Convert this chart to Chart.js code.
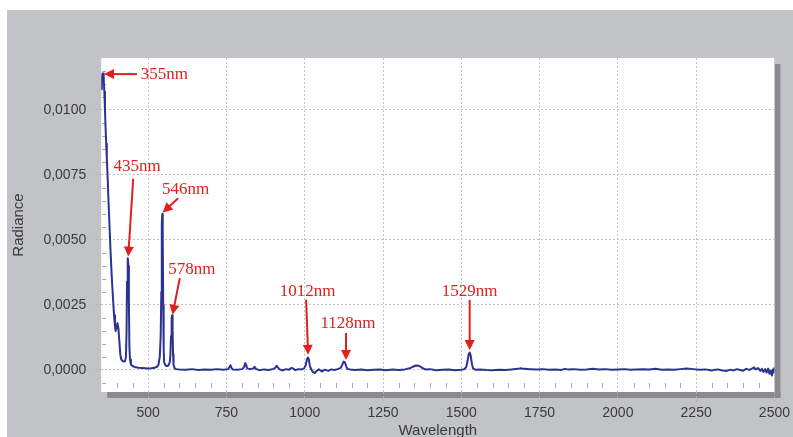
<!DOCTYPE html>
<html><head><meta charset="utf-8">
<script src="https://cdn.jsdelivr.net/npm/chart.js@4/dist/chart.umd.min.js"></script>
<style>html,body{margin:0;padding:0;background:#fff;overflow:hidden}</style>
</head><body>
<canvas id="c" width="793" height="437" style="display:block;width:793px;height:437px"></canvas>
<script>
// ---- data ----
const wavelength = [
 350,352,354,356,358,360,362,364,366,368,370,373,376,379,382,385,388,391,394,396,398,400,402,405,408,411,414,418,422,426,429,
 431,432.5,434,435.5,437,438.5,440,442,445,450,460,470,480,490,500,510,520,528,533,537,540,542,543.5,545,546.5,548,549.5,551,554,558,562,566,569,571,573,575,576.5,578,579.5,581,585,590,
 600,620,640,660,680,700,720,740,755,760,763,766,770,785,800,806,810,813,816,825,835,840,844,855,870,885,900,906,910,914,920,930,940,950,958,962,970,980,990,
 998,1003,1007,1010,1013,1016,1020,1026,1032,1038,1045,1055,1065,1075,1085,1095,1105,1115,1120,1124,1128,1132,1136,1145,1160,1180,1200,1220,1240,1260,1280,1300,1320,
 1335,1345,1355,1365,1375,1385,1400,1420,1440,1460,1480,1500,1510,1516,1520,1524,1527,1530,1534,1538,1545,1560,1580,1600,1620,1640,1660,1680,1690,1700,1720,1740,1760,1780,
 1800,1820,1830,1840,1860,1880,1900,1920,1940,1960,1980,2000,2020,2040,2060,2080,2100,2120,2140,2160,2180,2200,2220,2240,2260,2280,2300,2310,2320,2330,2345,2360,2370,2380,2390,
 2400,2410,2420,2430,2435,2440,2448,2455,2460,2465,2470,2475,2480,2484,2488,2492,2495,2498,2500
];
const radiance = [
 0.0108,0.0112,0.0114,0.0114,0.0112,0.0107,0.0100,0.0093,0.0087,0.0081,0.0076,0.0066,0.0057,0.0048,0.0040,0.0033,0.0027,0.0021,0.0017,0.0015,0.0016,0.0017,0.0018,0.0016,0.0011,0.0006,0.0004,0.00035,0.00032,0.00033,0.0005,
 0.0015,0.0034,0.0043,0.0043,0.0040,0.0026,0.0009,0.0004,0.0002,0.00015,0.0001,0.00008,0.00007,0.00006,0.00005,0.00006,0.00008,0.00012,0.0002,0.0005,0.0013,0.0030,0.0056,0.0060,0.0052,0.0025,0.0008,0.0003,0.0002,0.00015,0.00015,0.0002,0.0003,0.0006,0.0013,0.0020,0.0021,0.0016,0.0006,0.0002,0.00005,0.00003,
 0.00002,0.00001,0.00003,0.0,0.00002,0.00001,0.00003,0.00001,0.00003,0.00012,0.00018,0.00008,0.00002,0.00001,0.00003,0.0001,0.00026,0.0002,0.00006,0.00003,0.00005,0.00012,0.00004,-0.00001,0.00002,0.0,0.00004,0.00008,0.00016,0.0001,0.00002,-0.00002,0.00003,0.00001,0.00008,0.00006,-0.00001,0.00003,0.00002,
 0.00006,0.00018,0.0004,0.00048,0.00042,0.00018,0.00004,-0.00008,-0.00012,-0.00004,0.00002,-0.00006,0.00001,-0.00004,0.00002,0.0,0.00003,0.00008,0.0002,0.00032,0.0003,0.00016,0.00004,0.00002,0.0,0.00002,-0.00001,0.00001,0.00002,-0.00001,0.00002,0.0,0.00002,
 0.00006,0.00012,0.00017,0.00016,0.00008,0.00002,0.00003,-0.00001,0.00001,0.00002,-0.00001,0.00001,0.00003,0.00012,0.00035,0.00062,0.00067,0.00055,0.00022,0.00005,0.00001,0.00002,0.0,-0.00001,0.00001,0.0,0.00002,0.00004,0.00006,0.00004,0.00003,0.00002,0.00003,0.00001,
 0.00002,0.0,0.00004,0.00002,0.00003,0.00001,0.00002,0.00004,0.00002,0.00003,0.00001,0.00002,0.00003,0.00001,0.00002,0.00003,0.00002,0.00004,0.00001,0.00002,0.00001,0.00003,0.00005,0.00003,0.00001,0.00002,-0.00002,0.00001,0.00002,-0.00001,-0.00004,0.00001,-0.00002,0.00003,0.0,
 -0.00003,0.00004,0.0,0.00006,0.0001,0.00002,0.00007,-0.00004,0.00004,-0.00008,0.00003,-0.0001,0.00005,-0.00015,-0.00003,-0.00022,0.00002,-0.0001,0.0001
];
const xTickValues = [500,750,1000,1250,1500,1750,2000,2250,2500];
const yTickValues = [0,0.0025,0.005,0.0075,0.01];
const xTitle = 'Wavelength';
const yTitle = 'Radiance';
const peakLabels = ['355nm','435nm','546nm','578nm','1012nm','1128nm','1529nm'];
const peakWavelength = [358.9,436.3,545.9,577.7,1010.8,1131.8,1526.7];
const peakRadiance = [0.01138,0.00436,0.00605,0.00212,0.00058,0.00038,0.00077];

// ---- annotation layout (pixel offsets from arrow tip) ----
const annoLayout = [
 {tail:[33,0],      text:[36.7,0],    align:'left'},
 {tail:[5,-78],     text:[9,-90],     align:'center'},
 {tail:[15.6,-14.4],text:[23,-22.7],  align:'center'},
 {tail:[7.3,-36.7], text:[19.3,-45],  align:'center'},
 {tail:[-2,-55],    text:[-0.4,-63.3],align:'center'},
 {tail:[0,-27],     text:[2,-36.7],   align:'center'},
 {tail:[0,-50],     text:[0,-58.3],   align:'center'}
];

const points = wavelength.map((w,i)=>({x:w,y:radiance[i]}));
const fmtY = v => v.toFixed(4).replace('.',',');

const background = {
 id:'bg',
 beforeDraw(chart){
  const {ctx, chartArea:a} = chart;
  ctx.save();
  ctx.fillStyle='#ffffff'; ctx.fillRect(0,0,chart.width,chart.height);
  ctx.fillStyle='#c2c3c7'; ctx.fillRect(7,10,chart.width-7,chart.height-10);
  ctx.fillStyle='#898b8e';
  ctx.fillRect(a.right,a.top+6,6,a.bottom-a.top);
  ctx.fillRect(a.left+6,a.bottom,a.right-a.left,6);
  ctx.fillStyle='#ffffff'; ctx.fillRect(a.left,a.top,a.right-a.left,a.bottom-a.top);
  ctx.restore();
 }
};

const minorTicks = {
 id:'minor',
 beforeDatasetsDraw(chart){
  const {ctx, chartArea:a, scales:{x,y}} = chart;
  ctx.save(); ctx.strokeStyle='#a9a9a9'; ctx.lineWidth=1; ctx.beginPath();
  for (let v=400; v<2500; v+=50){ if (v%250===0) continue;
   const px=Math.round(x.getPixelForValue(v))+0.5; ctx.moveTo(px,a.bottom-9); ctx.lineTo(px,a.bottom-4); }
  for (let k=-1;k<=23;k++){ if (k%5===0) continue;
   const py=Math.round(y.getPixelForValue(k*0.0005))+0.5; if(py<a.top||py>a.bottom) continue;
   ctx.moveTo(a.left+1,py); ctx.lineTo(a.left+5,py); }
  ctx.stroke(); ctx.restore();
 }
};

const annotations = {
 id:'anno',
 afterDatasetsDraw(chart){
  const {ctx, scales:{x,y}} = chart;
  ctx.save();
  const red='#e0201c';
  ctx.strokeStyle=red; ctx.fillStyle=red; ctx.lineWidth=2;
  peakLabels.forEach((lab,i)=>{
   const L=annoLayout[i];
   const tx=x.getPixelForValue(peakWavelength[i]), ty=y.getPixelForValue(peakRadiance[i]);
   const sx=tx+L.tail[0], sy=ty+L.tail[1];
   let dx=tx-sx, dy=ty-sy; const len=Math.hypot(dx,dy); dx/=len; dy/=len;
   const nx=-dy, ny=dx, hl=10, hw=5;
   ctx.beginPath(); ctx.moveTo(sx,sy); ctx.lineTo(tx-dx*(hl-1),ty-dy*(hl-1)); ctx.stroke();
   ctx.beginPath(); ctx.moveTo(tx,ty);
   ctx.lineTo(tx-dx*hl+nx*hw,ty-dy*hl+ny*hw);
   ctx.lineTo(tx-dx*hl-nx*hw,ty-dy*hl-ny*hw); ctx.closePath(); ctx.fill();
   ctx.font='17px "Liberation Serif", "Times New Roman", serif';
   ctx.textAlign=L.align; ctx.textBaseline='middle';
   ctx.fillText(lab, tx+L.text[0], ty+L.text[1]);
  });
  ctx.restore();
 }
};

new Chart(document.getElementById('c'), {
 type:'scatter',
 data:{datasets:[{data:points, showLine:true, borderColor:'#2d3290', borderWidth:2, pointRadius:0, tension:0, fill:false, borderJoinStyle:'round'}]},
 options:{
  responsive:false, animation:false, devicePixelRatio:1,
  layout:{padding:{left:0,top:58,right:16.7,bottom:0}},
  plugins:{legend:{display:false}, tooltip:{enabled:false}},
  scales:{
   x:{type:'linear', min:350, max:2500,
    afterBuildTicks:s=>{s.ticks=xTickValues.map(v=>({value:v}));},
    afterFit:s=>{s.height=45;},
    ticks:{callback:v=>String(v), font:{family:'"Liberation Sans", Arial, sans-serif', size:14}, color:'#3a3a3a', padding:3, maxRotation:0, autoSkip:false},
    grid:{color:'#c4c4c4', tickColor:'#b0b0b0', tickLength:10, tickBorderDash:[2,2]},
    border:{display:false, dash:[2,2]},
    title:{display:true, text:xTitle, font:{family:'"Liberation Sans", Arial, sans-serif', size:15}, color:'#3a3a3a', padding:{top:0,bottom:-3}}
   },
   y:{type:'linear', min:-0.00085, max:0.012,
    afterBuildTicks:s=>{s.ticks=yTickValues.map(v=>({value:v}));},
    afterFit:s=>{s.width=101.2;},
    ticks:{callback:v=>fmtY(v), font:{family:'"Liberation Sans", Arial, sans-serif', size:14}, color:'#3a3a3a', padding:9, autoSkip:false},
    grid:{color:'#c4c4c4', tickColor:'#b0b0b0', tickLength:6, tickBorderDash:[2,2]},
    border:{display:false, dash:[2,2]},
    title:{display:true, text:yTitle, font:{family:'"Liberation Sans", Arial, sans-serif', size:15}, color:'#3a3a3a', padding:{top:10,bottom:0}}
   }
  }
 },
 plugins:[background, minorTicks, annotations]
});
</script>
</body></html>
